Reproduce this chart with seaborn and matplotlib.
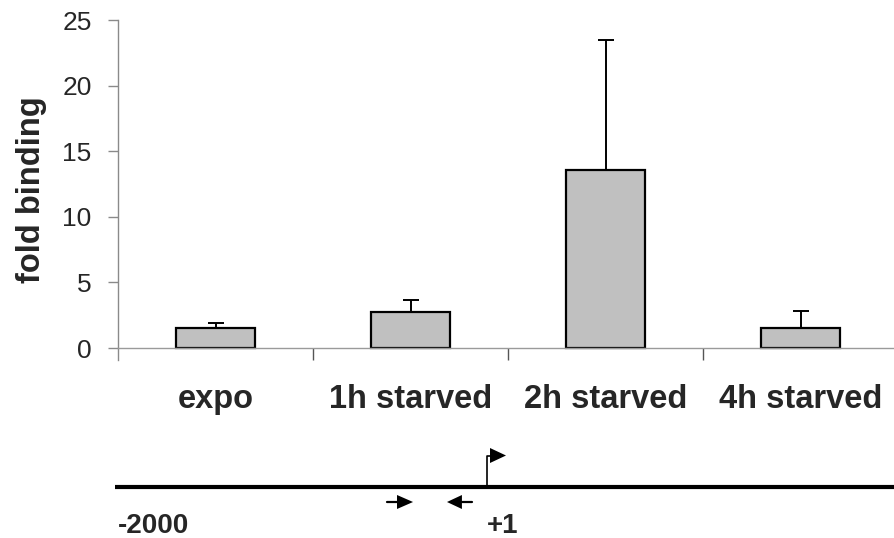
import numpy as np
import pandas as pd
import matplotlib
matplotlib.use("Agg")
import matplotlib.pyplot as plt
import seaborn as sns

# ChIP enrichment at the promoter region
conditions = ["expo", "1h starved", "2h starved", "4h starved"]
fold_binding = [1.55, 2.75, 13.6, 1.5]
fold_sd = [0.38, 0.9, 9.85, 1.3]
y_ticks = [0, 5, 10, 15, 20, 25]

# Promoter schematic (positions in bp relative to TSS)
region_start = -2000
tss = 1
fwd_primer = (-541, -487, -400)   # tail, arrow base, arrow tip
rev_primer = (-80, -135, -216)

sns.set_theme(style="white")
plt.rcParams["font.family"] = ["Liberation Sans", "DejaVu Sans"]

W, H = 894, 538
fig = plt.figure(figsize=(W / 100, H / 100), dpi=100)

# ---- bar chart ----
ax = fig.add_axes([118 / W, (H - 360) / H, 780 / W, 340 / H])
df = pd.DataFrame({"condition": conditions, "fold": fold_binding})
sns.barplot(data=df, x="condition", y="fold", ax=ax, width=0.41,
            color="#c0c0c0", saturation=1, edgecolor="black", linewidth=1.6,
            errorbar=None)
ax.errorbar(np.arange(len(conditions)), fold_binding,
            yerr=[np.zeros(len(fold_sd)), fold_sd], fmt="none",
            ecolor="black", elinewidth=1.4, capsize=6, capthick=1.4)

ax.set_xlim(-0.5, 3.5)
ax.set_ylim(-0.91, 25)
ax.set_yticks(y_ticks)
ax.set_yticklabels([str(t) for t in y_ticks], fontsize=19)
ax.set_ylabel("fold binding", fontsize=23.5, fontweight="bold", labelpad=11)
ax.set_xlabel("")

for side in ("top", "right"):
    ax.spines[side].set_visible(False)
ax.spines["left"].set_color("#8a8a8a")
ax.spines["left"].set_linewidth(1.0)
ax.spines["bottom"].set_color("#9a9a9a")
ax.spines["bottom"].set_linewidth(1.0)
ax.spines["bottom"].set_position(("data", 0))

ax.tick_params(axis="y", which="major", direction="out", length=7, width=1,
               color="#8a8a8a", pad=12, left=True)
ax.set_xticks(np.arange(len(conditions)))
ax.set_xticklabels(conditions, fontsize=23.5, fontweight="bold")
ax.tick_params(axis="x", which="major", length=0, pad=26, bottom=True)
ax.set_xticks(np.arange(len(conditions)) + 0.5, minor=True)
ax.tick_params(axis="x", which="minor", direction="out", length=8.5, width=1,
               color="#555555", bottom=True)
ax.grid(False)

# ---- promoter schematic ----
px_per_bp = (487 - 118) / (tss - region_start)
dx = fig.add_axes([0, 0, 1, 1])
dx.set_xlim(region_start - 118 / px_per_bp, tss + (W - 487) / px_per_bp)
dx.set_ylim(H, 0)
dx.axis("off")
dx.patch.set_alpha(0)

x_line0 = region_start - 3 / px_per_bp
dx.plot([x_line0, dx.get_xlim()[1]], [487, 487], color="black", lw=3.0,
        solid_capstyle="butt")

# transcription start flag
flag_base = tss + 3 / px_per_bp
flag_tip = tss + 19 / px_per_bp
dx.plot([tss, tss, flag_base], [487, 456, 456], color="black", lw=1.2)
dx.fill([flag_base, flag_tip, flag_base], [448, 455.5, 463], color="black", lw=0)

# primers
tail, base, tip = fwd_primer
dx.plot([tail, base], [502, 502], color="black", lw=1.6)
dx.fill([base, tip, base], [495, 502, 509], color="black", lw=0)
tail, base, tip = rev_primer
dx.plot([tail, base], [502, 502], color="black", lw=1.6)
dx.fill([base, tip, base], [495, 502, 509], color="black", lw=0)

dx.text(region_start, 533, "-2000", ha="left", va="baseline", fontsize=20,
        fontweight="bold")
dx.text(tss, 533, "+1", ha="left", va="baseline", fontsize=20,
        fontweight="bold")

fig.savefig("out.png", dpi=100)
